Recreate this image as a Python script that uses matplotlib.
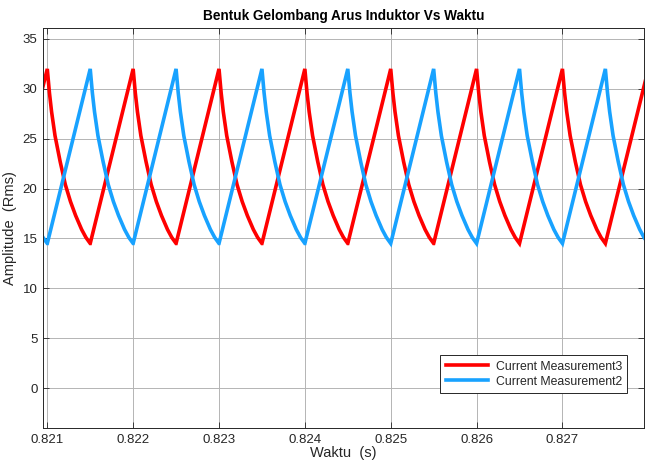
import numpy as np
import matplotlib
matplotlib.use("Agg")
import matplotlib.pyplot as plt

# Inductor current waveforms (two interleaved phases)
half_period = 0.0005
peak_value = 32.0
valley_value = 14.5

# Peak instants of each phase
red_peaks = [0.821, 0.822, 0.823, 0.824, 0.825, 0.826, 0.827, 0.828]
blue_peaks = [0.8205, 0.8215, 0.8225, 0.8235, 0.8245, 0.8255, 0.8265, 0.8275]

# Shape of the discharge (falling) part of one cycle: fraction of half-period vs current
fall_phase = [0.0, 0.05, 0.10, 0.18, 0.30, 0.42, 0.54, 0.66, 0.80, 0.90, 1.0]
fall_value = [32.0, 29.6, 27.7, 25.3, 22.7, 20.4, 18.7, 17.3, 15.9, 15.1, 14.5]

x_ticks = [0.821, 0.822, 0.823, 0.824, 0.825, 0.826, 0.827]
x_tick_labels = ["0.821", "0.822", "0.823", "0.824", "0.825", "0.826", "0.827"]
y_ticks = [0, 5, 10, 15, 20, 25, 30, 35]


def build_wave(peaks):
    t, v = [], []
    for p in peaks:
        # linear charge ramp from the valley up to the peak
        t.append(p - half_period)
        v.append(valley_value)
        # discharge curve from the peak down to the next valley
        for ph, val in zip(fall_phase, fall_value):
            t.append(p + ph * half_period)
            v.append(val)
    return np.array(t), np.array(v)


t_red, i_red = build_wave(red_peaks)
t_blue, i_blue = build_wave(blue_peaks)

plt.rcParams["font.family"] = ["Liberation Sans", "DejaVu Sans"]

fig = plt.figure(figsize=(6.49, 4.61), dpi=100)
ax = fig.add_axes([43 / 649, 1 - 428 / 461, (644 - 43) / 649, (428 - 28) / 461])

ax.plot(t_red, i_red, color="#ff0000", lw=2.6, label="Current Measurement3", solid_joinstyle="miter")
ax.plot(t_blue, i_blue, color="#18a2ff", lw=2.6, label="Current Measurement2", solid_joinstyle="miter")

ax.set_xlim(0.82095, 0.82795)
ax.set_ylim(-4, 36.1)
ax.set_xticks(x_ticks)
ax.set_xticklabels(x_tick_labels)
ax.set_yticks(y_ticks)

ax.grid(True, color="#b4b4b4", lw=0.7)
ax.set_axisbelow(True)
ax.tick_params(direction="in", top=True, right=True, length=4, width=0.6,
               colors="#262626", labelsize=9.5, pad=4)
for s in ax.spines.values():
    s.set_color("#262626")
    s.set_linewidth(0.7)

ax.set_title("Bentuk Gelombang Arus Induktor Vs Waktu", fontsize=9.8,
             fontweight="bold", color="black", pad=6)
ax.set_xlabel("Waktu  (s)", fontsize=10.5, color="#262626", labelpad=0)
ax.set_ylabel("Amplitude  (Rms)", fontsize=10.5, color="#262626", labelpad=4)

leg = ax.legend(loc="lower right", bbox_to_anchor=(0.9725, 0.087), fontsize=8.8,
                frameon=True, fancybox=False, framealpha=1, edgecolor="#262626",
                handlelength=3.5, borderpad=0.45, labelspacing=0.25, handletextpad=0.6,
                borderaxespad=0)
leg.get_frame().set_linewidth(0.7)
for txt in leg.get_texts():
    txt.set_color("#262626")

fig.savefig("out.png", dpi=100)
